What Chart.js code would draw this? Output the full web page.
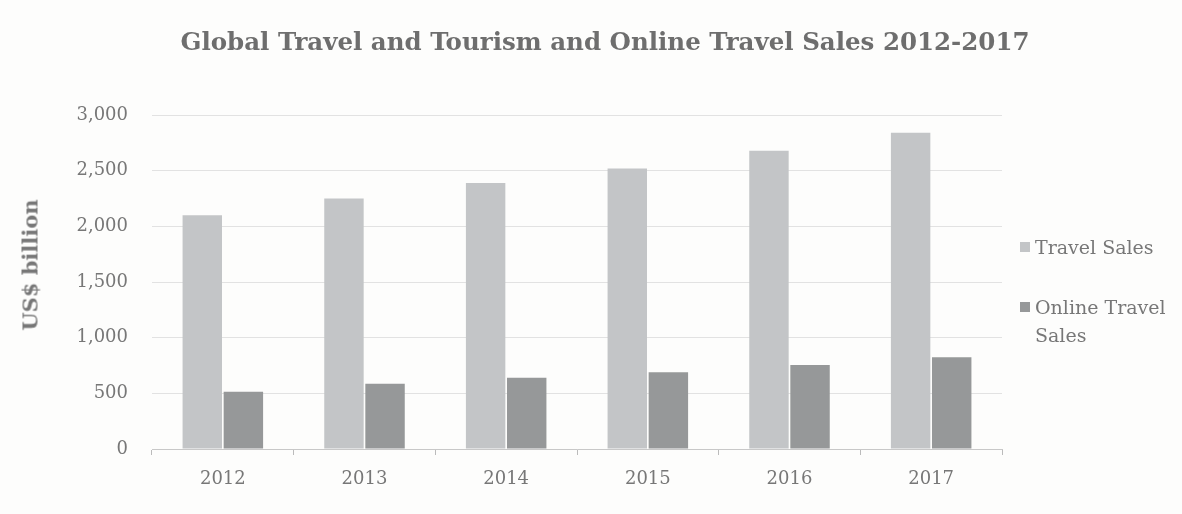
<!DOCTYPE html>
<html>
<head>
<meta charset="utf-8">
<script src="https://cdn.jsdelivr.net/npm/chart.js@4.4.0/dist/chart.umd.min.js"></script>
<style>
  html, body { margin: 0; padding: 0; background: #fdfdfc; }
  #wrap { position: relative; width: 1182px; height: 514px; font-family: "DejaVu Serif", serif; color: #777; }
  #titulo { position: absolute; left: 0; width: 1210px; top: 27px; text-align: center; font-size: 24.5px; font-weight: bold; color: #6e6e6e; }
  #eixoY { position: absolute; left: 30px; top: 265px; transform: translate(-50%, -50%) rotate(-90deg); font-size: 21px; font-weight: bold; white-space: nowrap; }
  #legend { position: absolute; left: 1020px; top: 233px; font-size: 19px; line-height: 28px; }
  #legend .item { display: flex; align-items: flex-start; margin-bottom: 32px; }
  #legend .box { width: 10px; height: 10px; margin: 9px 5px 0 0; flex: none; }
</style>
</head>
<body>
<div id="wrap">
  <canvas id="chart" width="1182" height="514"></canvas>
  <div id="titulo">Global Travel and Tourism and Online Travel Sales 2012-2017</div>
  <div id="eixoY">US$ billion</div>
  <div id="legend"></div>
</div>
<script>
// dados do gráfico
const anos = ['2012', '2013', '2014', '2015', '2016', '2017'];
const vendasTotais = [2100, 2250, 2390, 2520, 2680, 2840];
const vendasOnline = [515, 585, 640, 690, 755, 825];
const nomesSeries = ['Travel Sales', 'Online Travel\nSales'];
const coresSeries = ['#c3c5c7', '#969899'];

const serif = '"DejaVu Serif", "Liberation Serif", serif';

const ctx = document.getElementById('chart').getContext('2d');
const chart = new Chart(ctx, {
    type: 'bar',
    data: {
        labels: anos,
        datasets: [
            { label: nomesSeries[0], data: vendasTotais, backgroundColor: coresSeries[0] },
            { label: nomesSeries[1], data: vendasOnline, backgroundColor: coresSeries[1] }
        ]
    },
    options: {
        responsive: false,
        animation: false,
        categoryPercentage: 0.58,
        barPercentage: 0.96,
        layout: { padding: { top: 115, right: 180, left: 0, bottom: 0 } },
        plugins: {
            legend: { display: false },
            tooltip: { enabled: false }
        },
        scales: {
            x: {
                afterFit: s => { s.height = 65; },
                grid: { offset: true, drawOnChartArea: false, color: '#bbb', tickLength: 6 },
                border: { color: '#c8c8c8' },
                ticks: { color: '#777', font: { family: serif, size: 18 }, padding: 14 }
            },
            y: {
                min: 0,
                max: 3000,
                afterFit: s => { s.width = 152; },
                grid: { color: '#e2e2e2', drawTicks: false },
                border: { display: false },
                ticks: {
                    stepSize: 500,
                    color: '#777',
                    padding: 24,
                    font: { family: serif, size: 18 },
                    callback: v => v.toLocaleString('en-US')
                }
            }
        }
    }
});

// legenda em HTML para permitir a quebra de linha
const legend = document.getElementById('legend');
chart.data.datasets.forEach(ds => {
    const item = document.createElement('div');
    item.className = 'item';
    item.innerHTML = `<span class="box" style="background:${ds.backgroundColor}"></span><span>${ds.label.replace('\n', '<br>')}</span>`;
    legend.appendChild(item);
});
</script>
</body>
</html>
